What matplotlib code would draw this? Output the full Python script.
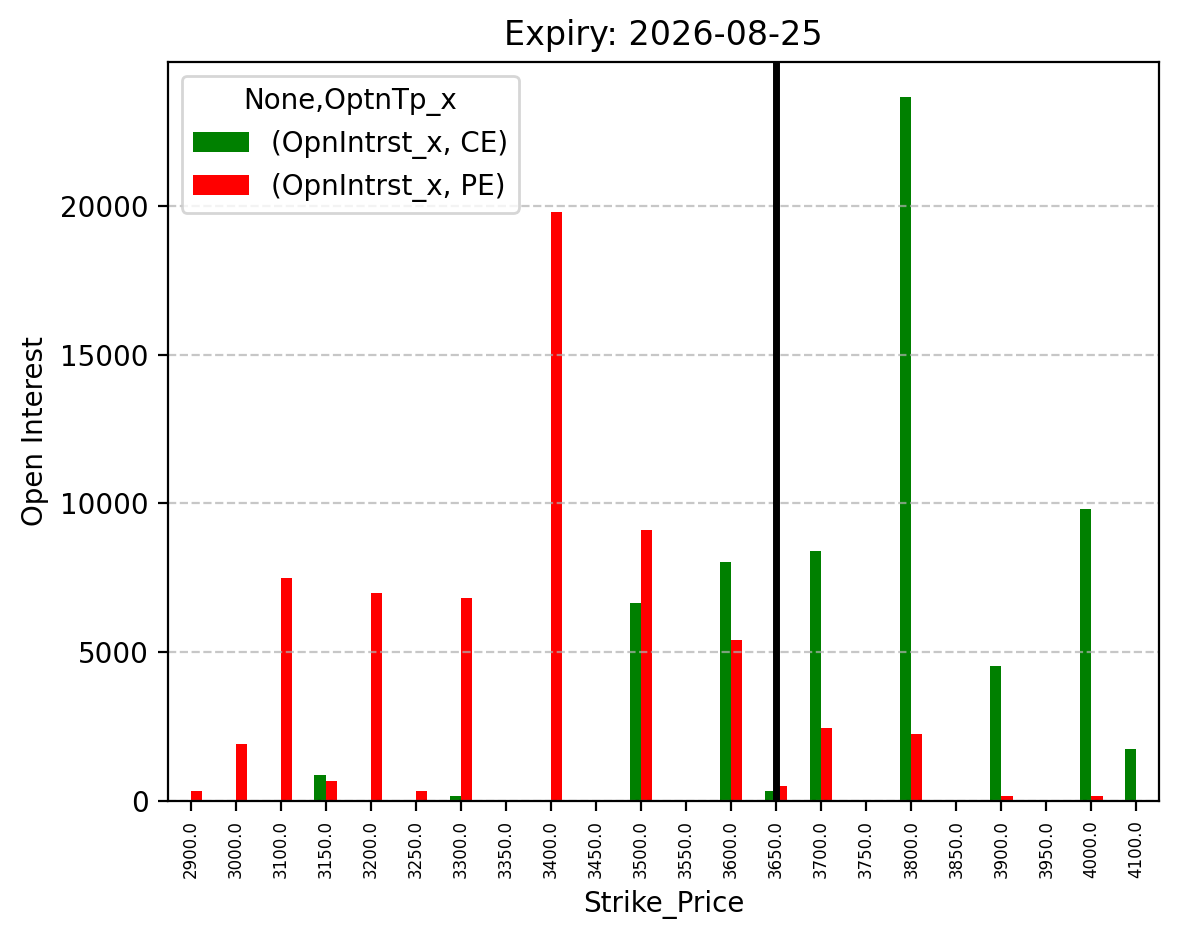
import matplotlib
matplotlib.use("Agg")
import matplotlib.pyplot as plt
import numpy as np
import pandas as pd

strikes = [2900.0, 3000.0, 3100.0, 3150.0, 3200.0, 3250.0, 3300.0, 3350.0, 3400.0, 3450.0,
           3500.0, 3550.0, 3600.0, 3650.0, 3700.0, 3750.0, 3800.0, 3850.0, 3900.0, 3950.0,
           4000.0, 4100.0]
ce_oi = [0, 0, 0, 875, 0, 0, 175, 0, 0, 0,
         6650, 0, 8025, 325, 8400, 0, 23650, 0, 4525, 0,
         9800, 1750]
pe_oi = [350, 1900, 7500, 675, 7000, 350, 6825, 0, 19775, 0,
         9100, 0, 5400, 500, 2450, 0, 2250, 0, 175, 0,
         175, 0]
atm_strike = 3650.0
expiry = "2026-08-25"

cols = pd.MultiIndex.from_tuples([("OpnIntrst_x", "CE"), ("OpnIntrst_x", "PE")],
                                 names=[None, "OptnTp_x"])
df = pd.DataFrame(np.column_stack([ce_oi, pe_oi]), index=pd.Index(strikes, name="Strike_Price"),
                  columns=cols)

fig, ax = plt.subplots(figsize=(1179 / 200, 939 / 200), dpi=200)
fig.subplots_adjust(left=0.1425, right=0.983, top=0.934, bottom=0.147)
df.plot(kind="bar", ax=ax, color=["green", "red"])
ax.set_title(f"Expiry: {expiry}")
ax.set_ylabel("Open Interest")
ax.set_xlabel("Strike_Price")
ax.tick_params(axis="x", labelsize=6)
ax.grid(axis="y", linestyle="--", alpha=0.7)
ax.axvline(strikes.index(atm_strike), color="black", linewidth=2.5)
fig.savefig("out.png", dpi=200)
